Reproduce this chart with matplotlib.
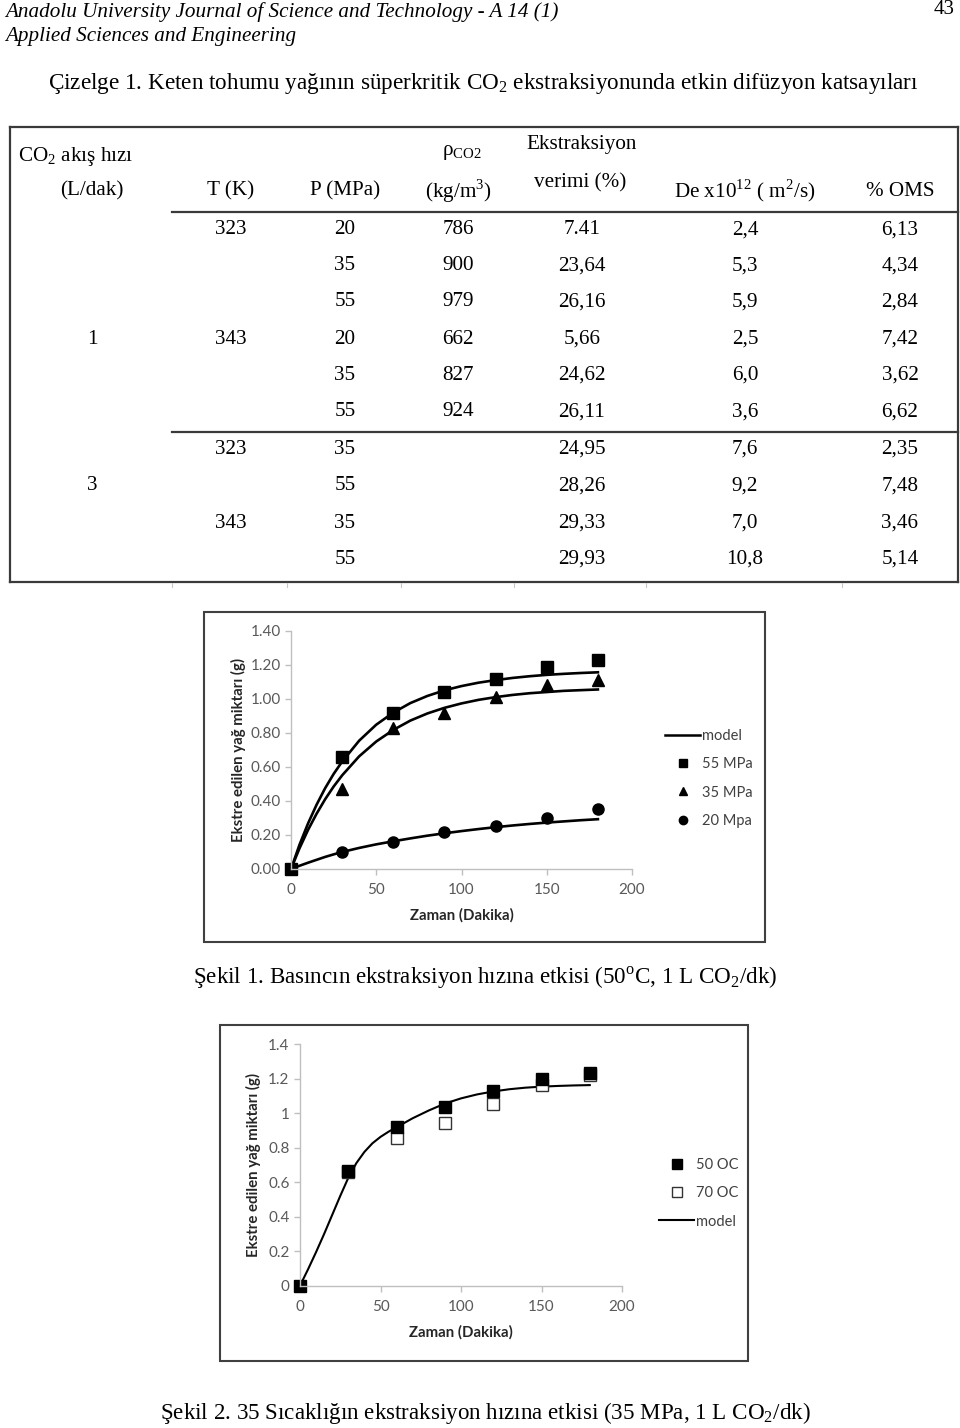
#!/usr/bin/env python3
"""Journal page: table of diffusion coefficients and two extraction curves."""
import matplotlib
matplotlib.use('Agg')
import matplotlib.pyplot as plt
from matplotlib.patches import Rectangle
from matplotlib.lines import Line2D

plt.rcParams['font.family'] = ['Liberation Serif', 'DejaVu Serif']
plt.rcParams['mathtext.fontset'] = 'custom'
plt.rcParams['mathtext.rm'] = 'Liberation Serif'

# ---- table data ----
flow_col = ['', '', '', '1', '', '', '', '3', '', '']
temp_col = ['323', '', '', '343', '', '', '323', '', '343', '']
pres_col = ['20', '35', '55', '20', '35', '55', '35', '55', '35', '55']
dens_col = ['786', '900', '979', '662', '827', '924', '', '', '', '']
yield_col = ['7.41', '23,64', '26,16', '5,66', '24,62', '26,11', '24,95', '28,26', '29,33', '29,93']
de_col = ['2,4', '5,3', '5,9', '2,5', '6,0', '3,6', '7,6', '9,2', '7,0', '10,8']
oms_col = ['6,13', '4,34', '2,84', '7,42', '3,62', '6,62', '2,35', '7,48', '3,46', '5,14']

# ---- figure 1 data (pressure effect) ----
time = [0, 30, 60, 90, 120, 150, 180]
p55 = [0, 0.66, 0.92, 1.04, 1.12, 1.19, 1.23]
p35 = [0, 0.47, 0.83, 0.92, 1.01, 1.08, 1.11]
p20 = [0, 0.10, 0.16, 0.22, 0.25, 0.30, 0.35]
model_t = [0, 5, 10, 15, 20, 25, 30, 40, 50, 60, 70, 80, 90, 100, 110, 120, 130, 140, 150, 160, 170, 180]
m55 = [0, 0.143, 0.268, 0.378, 0.475, 0.559, 0.632, 0.755, 0.849, 0.920, 0.976, 1.018, 1.051,
       1.076, 1.096, 1.111, 1.124, 1.134, 1.142, 1.148, 1.153, 1.157]
m35 = [0, 0.122, 0.230, 0.325, 0.410, 0.485, 0.551, 0.663, 0.750, 0.818, 0.873, 0.915, 0.948,
       0.974, 0.995, 1.011, 1.024, 1.034, 1.041, 1.048, 1.052, 1.056]
m20 = [0, 0.019, 0.037, 0.054, 0.071, 0.086, 0.100, 0.124, 0.145, 0.163, 0.180, 0.196, 0.210,
       0.223, 0.235, 0.246, 0.256, 0.265, 0.273, 0.280, 0.287, 0.293]

# ---- figure 2 data (temperature effect) ----
c50 = [0, 0.665, 0.92, 1.035, 1.13, 1.195, 1.23]
c70 = [0, 0.66, 0.855, 0.94, 1.055, 1.16, 1.22]
model2_t = [0, 5, 10, 15, 20, 25, 30, 35, 40, 45, 50, 55, 60, 70, 80, 90, 100, 110, 120, 130,
            140, 150, 160, 170, 180]
m2 = [0, 0.095, 0.195, 0.300, 0.410, 0.520, 0.625, 0.71, 0.775, 0.825, 0.862, 0.892, 0.918,
      0.97, 1.015, 1.055, 1.085, 1.108, 1.125, 1.138, 1.147, 1.153, 1.157, 1.16, 1.162]

SANS = ['Lato', 'DejaVu Sans']
GREY = '#595959'
AXGREY = '#bfbfbf'

fig = plt.figure(figsize=(9.6, 14.28), dpi=100)
page = fig.add_axes([0, 0, 1, 1])
page.set_xlim(0, 960)
page.set_ylim(1428, 0)
page.axis('off')

# header
page.text(5, 12, 'Anadolu University Journal of Science and Technology - A 14 (1)',
          fontsize=15.2, style='italic', va='center')
page.text(5, 37, 'Applied Sciences and Engineering', fontsize=15.2, style='italic', va='center')
page.text(955, 10, '43', fontsize=15, ha='right', va='center')
page.text(483, 83, 'Çizelge 1. Keten tohumu yağının süperkritik CO$_\\mathregular{2}$ '
          'ekstraksiyonunda etkin difüzyon katsayıları', fontsize=16.7, ha='center', va='center')

# table frame
lc = '#3a3a3a'
page.plot([10, 958], [127, 127], color=lc, lw=1.6)
page.plot([10, 958], [582, 582], color=lc, lw=1.6)
page.plot([10, 10], [127, 582], color=lc, lw=1.6)
page.plot([958, 958], [127, 582], color=lc, lw=1.6)
page.plot([172, 958], [212, 212], color=lc, lw=1.6)
page.plot([172, 958], [432, 432], color=lc, lw=1.6)
for bx in [172, 287, 401, 514, 646, 842]:
    page.plot([bx, bx], [583, 587], color='#c8c8c8', lw=0.8)

fs = 15.2
page.text(18, 156, 'CO$_\\mathregular{2}$ akış hızı', fontsize=fs, va='center')
page.text(462, 153, 'ρ$_\\mathregular{CO2}$', fontsize=fs, ha='center', va='center')
page.text(582, 145, 'Ekstraksiyon', fontsize=fs, ha='center', va='center')
page.text(580, 183, 'verimi (%)', fontsize=fs, ha='center', va='center')
heads = ['(L/dak)', 'T (K)', 'P (MPa)', '(kg/m$^\\mathregular{3}$)', '',
         'De x10$^\\mathregular{12}$ ( m$^\\mathregular{2}$/s)', '% OMS']
col_x = [92, 231, 345, 458, 582, 745, 900]
for cx, h in zip(col_x, heads):
    if h:
        page.text(cx, 191, h, fontsize=fs, ha='center', va='center')

row_y = [230, 266, 302, 339, 375, 412, 449, 486, 523, 559]
cols = [flow_col, temp_col, pres_col, dens_col, yield_col, de_col, oms_col]
for cx, col in zip(col_x, cols):
    for ry, v in zip(row_y, col):
        if v:
            page.text(cx, ry, v, fontsize=fs, ha='center', va='center')

# ---- figure 1 ----
page.add_patch(Rectangle((204, 612), 561, 330, fill=False, ec='#404040', lw=1.5))
ax1 = fig.add_axes([291 / 960, 1 - 869 / 1428, 341 / 960, 238 / 1428])
ax1.plot(model_t, m55, color='black', lw=1.9)
ax1.plot(model_t, m35, color='black', lw=1.9)
ax1.plot(model_t, m20, color='black', lw=1.9)
ax1.plot(time[1:], p35[1:], ls='none', marker='^', ms=8, color='black')
ax1.plot(time[1:], p20[1:], ls='none', marker='o', ms=8, color='black')
ax1.plot(time, p55, ls='none', marker='s', ms=9, color='black')
ax1.set_xlim(0, 200)
ax1.set_ylim(0, 1.4)
ax1.set_xticks([0, 50, 100, 150, 200])
ax1.set_yticks([0, 0.2, 0.4, 0.6, 0.8, 1.0, 1.2, 1.4])
ax1.set_yticklabels([f'{v:.2f}' for v in ax1.get_yticks()])
ax1.set_xlabel('Zaman (Dakika)', family=SANS, fontweight='bold', fontsize=10.8, color='#262626',
               labelpad=8)
ax1.set_ylabel('Ekstre edilen yağ miktarı (g)', family=SANS, fontweight='bold', fontsize=10.8,
               color='#262626', labelpad=3)
legend1 = [Line2D([], [], color='black', lw=1.8),
           Line2D([], [], ls='none', marker='s', ms=6, color='black'),
           Line2D([], [], ls='none', marker='^', ms=6, color='black'),
           Line2D([], [], ls='none', marker='o', ms=6, color='black')]
fig.legend(legend1, ['model', '55 MPa', '35 MPa', '20 Mpa'], loc='upper left',
           bbox_to_anchor=(658 / 960, 1 - 722 / 1428), frameon=False, borderpad=0,
           handlelength=2.4, handletextpad=0.15, labelspacing=0.97,
           prop={'family': SANS, 'size': 10.5}, labelcolor='#404040')

# ---- figure 2 ----
page.add_patch(Rectangle((220, 1025), 528, 336, fill=False, ec='#404040', lw=1.5))
ax2 = fig.add_axes([300 / 960, 1 - 1285.7 / 1428, 322 / 960, 241.7 / 1428])
ax2.plot(model2_t, m2, color='black', lw=1.5)
ax2.plot(time[1:], c70[1:], ls='none', marker='s', ms=8, mfc='white', mec='#333333', mew=1.0)
ax2.plot(time, c50, ls='none', marker='s', ms=9, color='black')
ax2.set_xlim(0, 200)
ax2.set_ylim(0, 1.4)
ax2.set_xticks([0, 50, 100, 150, 200])
ax2.set_yticks([0, 0.2, 0.4, 0.6, 0.8, 1.0, 1.2, 1.4])
ax2.set_yticklabels(['0', '0.2', '0.4', '0.6', '0.8', '1', '1.2', '1.4'])
ax2.set_xlabel('Zaman (Dakika)', family=SANS, fontweight='bold', fontsize=10.8, color='#262626',
               labelpad=8)
ax2.set_ylabel('Ekstre edilen yağ miktarı (g)', family=SANS, fontweight='bold', fontsize=10.8,
               color='#262626', labelpad=5)
legend2 = [Line2D([], [], ls='none', marker='s', ms=6.5, color='black'),
           Line2D([], [], ls='none', marker='s', ms=6.5, mfc='white', mec='#333333', mew=1.0),
           Line2D([], [], color='black', lw=1.5)]
fig.legend(legend2, ['50 OC', '70 OC', 'model'], loc='upper left',
           bbox_to_anchor=(652 / 960, 1 - 1151 / 1428), frameon=False, borderpad=0,
           handlelength=2.4, handletextpad=0.15, labelspacing=0.97,
           prop={'family': SANS, 'size': 10.5}, labelcolor='#404040')

for ax in (ax1, ax2):
    for side in ('top', 'right'):
        ax.spines[side].set_visible(False)
    for side in ('left', 'bottom'):
        ax.spines[side].set_color(AXGREY)
        ax.spines[side].set_linewidth(1.0)
    ax.tick_params(axis='both', colors=AXGREY, length=4, width=1.0, labelcolor=GREY,
                   labelsize=11)
    ax.tick_params(axis='x', pad=6)
    for lab in ax.get_xticklabels() + ax.get_yticklabels():
        lab.set_family(SANS)
    ax.set_facecolor('none')
    for line in ax.lines:
        line.set_clip_on(False)

page.text(485, 978, 'Şekil 1. Basıncın ekstraksiyon hızına etkisi (50$^\\mathregular{o}$C, '
          '1 L CO$_\\mathregular{2}$/dk)', fontsize=16.6, ha='center', va='center')
page.text(485, 1413, 'Şekil 2. 35 Sıcaklığın ekstraksiyon hızına etkisi (35 MPa, '
          '1 L CO$_\\mathregular{2}$/dk)', fontsize=16.6, ha='center', va='center')

fig.savefig('out.png', dpi=100)
